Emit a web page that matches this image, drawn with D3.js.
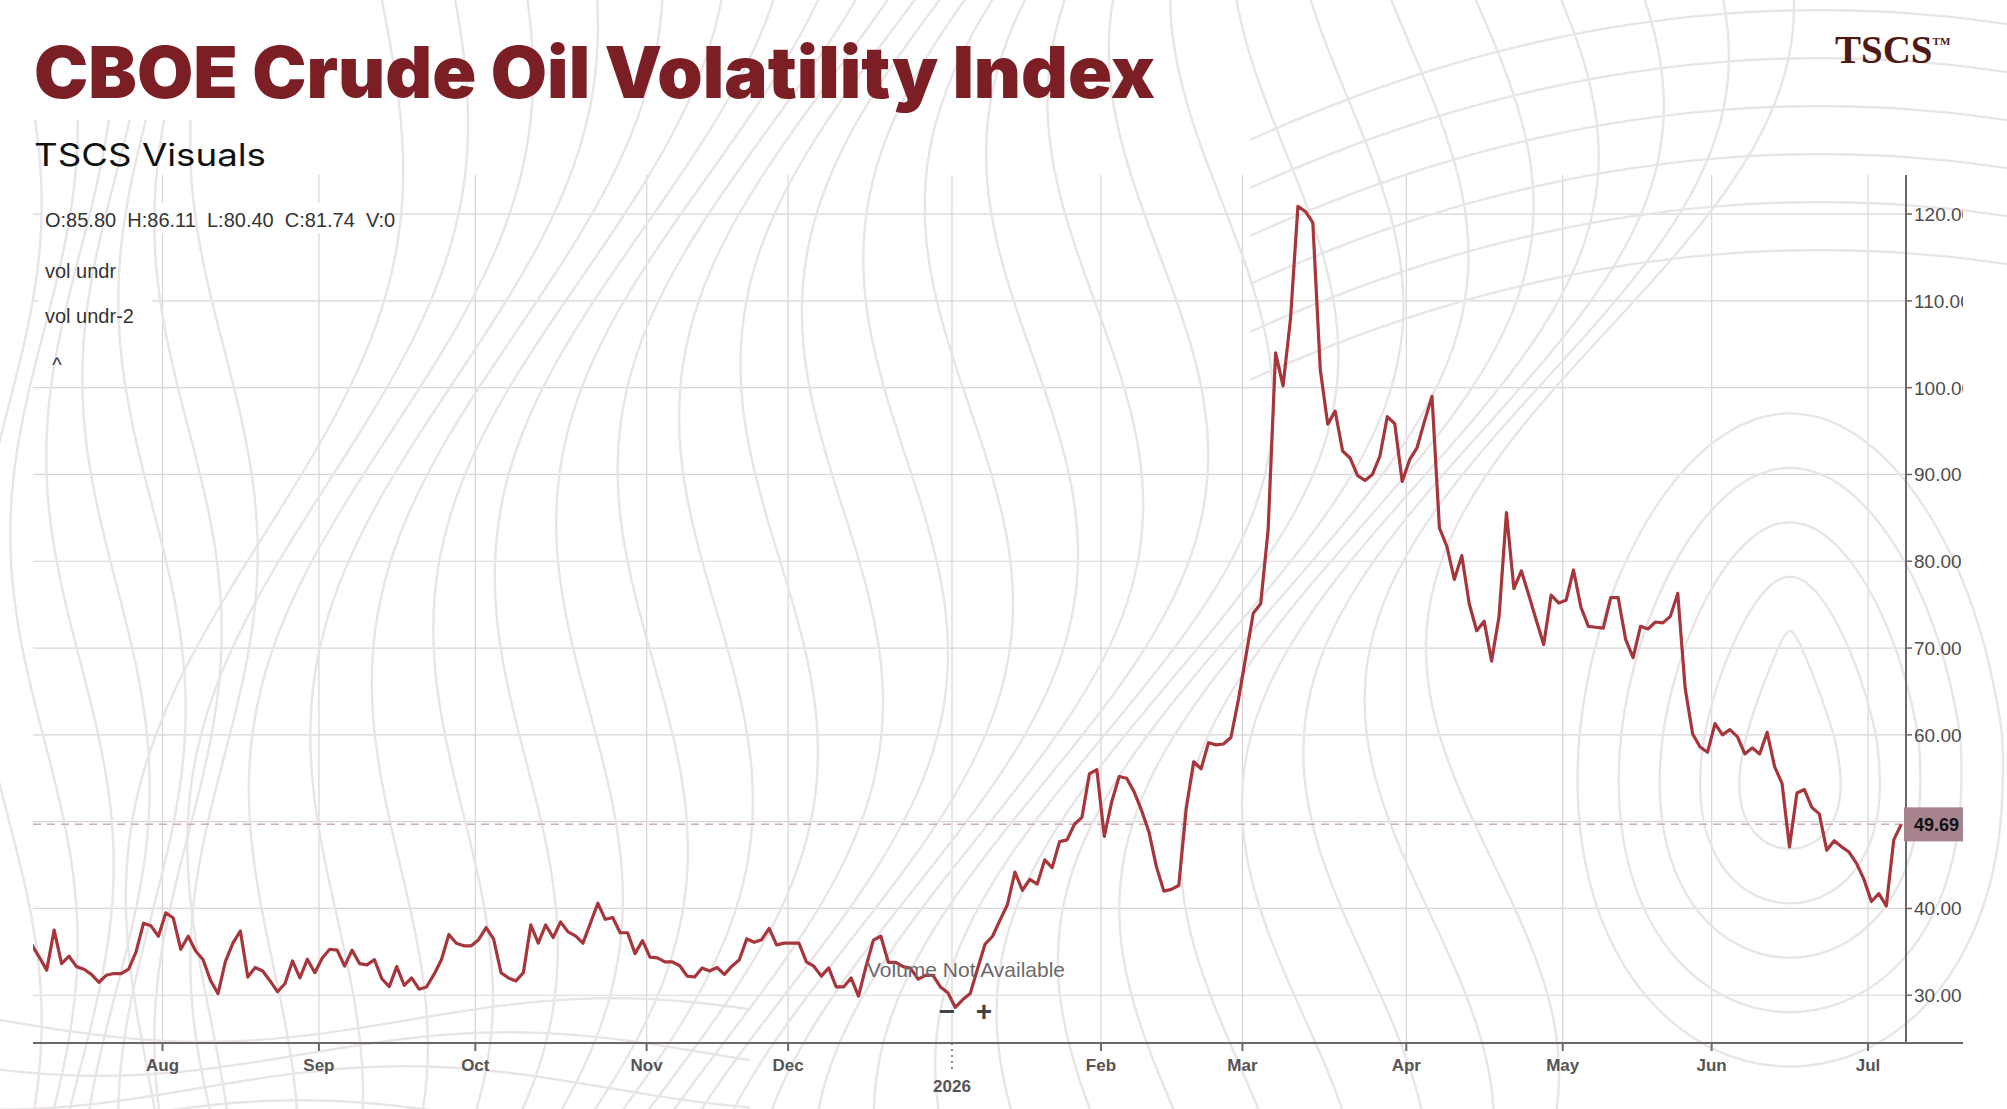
<!DOCTYPE html>
<html>
<head>
<meta charset="utf-8">
<script src="https://cdn.jsdelivr.net/npm/d3@7"></script>
<style>
  html, body { margin: 0; padding: 0; background: #fff; }
  svg { display: block; }
</style>
</head>
<body>
<div id="chart"></div>
<script>
// CBOE Crude Oil Volatility Index — daily close line, trading-day x axis
const W = 2007, H = 1109;
const PLOT = { left: 33, right: 1906, top: 175, bottom: 1043, axisEnd: 1963 };

const START_DATE = '2025-07-08';
const HOLIDAYS = [
  '2025-09-01', '2025-11-27', '2025-12-25', '2026-01-01', '2026-01-19',
  '2026-02-16', '2026-04-03', '2026-05-25', '2026-06-19', '2026-07-03'
];

// daily closes, one per trading day from START_DATE
const closes = [
  35.8, 34.4, 32.9, 37.5, 33.65, 34.5, 33.3, 33.0, 32.4, 31.5,
  32.3, 32.5, 32.5, 33.0, 35.0, 38.3, 38.0, 36.8, 39.5, 38.9,
  35.3, 36.8, 35.1, 34.1, 31.7, 30.2, 33.9, 36.0, 37.4, 32.1,
  33.2, 32.8, 31.65, 30.4, 31.35, 33.95, 32.0, 34.15, 32.6, 34.3,
  35.3, 35.2, 33.35, 35.2, 33.65, 33.5, 34.1, 31.9, 31.0, 33.3,
  31.15, 32.0, 30.7, 30.96, 32.4, 34.1, 37.0, 36.0, 35.7, 35.7,
  36.4, 37.8, 36.5, 32.6, 32.0, 31.65, 32.6, 38.1, 36.0, 38.1,
  36.65, 38.45, 37.3, 36.85, 36.0, 38.3, 40.6, 38.75, 38.95, 37.2,
  37.2, 34.8, 36.3, 34.4, 34.3, 33.85, 33.85, 33.4, 32.2, 32.1,
  33.15, 32.8, 33.2, 32.4, 33.35, 34.1, 36.5, 36.1, 36.4, 37.7,
  35.8, 36.0, 36.0, 36.0, 33.85, 33.35, 32.2, 33.15, 30.96, 30.96,
  32.0, 29.9, 33.3, 36.35, 36.8, 33.8, 33.8, 33.3, 33.1, 31.85,
  32.3, 32.3, 30.96, 30.3, 28.6, 29.5, 30.2, 33.1, 35.9, 36.8,
  38.65, 40.45, 44.2, 42.1, 43.35, 42.8, 45.6, 44.7, 47.7, 47.9,
  49.7, 50.5, 55.5, 56.0, 48.3, 52.3, 55.2, 55.0, 53.45, 51.3,
  48.8, 44.8, 42.0, 42.2, 42.65, 51.5, 56.9, 56.1, 59.1, 58.85,
  58.95, 59.7, 64.0, 69.0, 74.0, 75.1, 83.65, 104.0, 100.2, 107.9,
  120.9, 120.3, 119.0, 102.1, 95.8, 97.3, 92.7, 91.9, 89.9, 89.3,
  90.0, 92.1, 96.65, 95.85, 89.2, 91.7, 93.1, 96.15, 99.0, 83.85,
  81.7, 77.9, 80.65, 75.1, 72.0, 73.1, 68.5, 73.6, 85.6, 76.85,
  78.9, 76.1, 73.2, 70.4, 76.1, 75.2, 75.5, 79.0, 74.7, 72.5,
  72.4, 72.3, 75.8, 75.8, 71.0, 68.9, 72.5, 72.2, 73.0, 72.9,
  73.65, 76.3, 65.3, 60.1, 58.6, 58.0, 61.3, 60.0, 60.6, 59.8,
  57.8, 58.5, 57.8, 60.3, 56.35, 54.4, 47.1, 53.3, 53.7, 51.65,
  50.9, 46.7, 47.8, 47.1, 46.5, 45.2, 43.35, 40.8, 41.7, 40.3,
  47.9, 49.69
];

const yTicks = [30, 40, 50, 60, 70, 80, 90, 100, 110, 120];
const yLabelTicks = [30, 40, 60, 70, 80, 90, 100, 110, 120];
const lastClose = 49.69;
const ohlcText = 'O:85.80  H:86.11  L:80.40  C:81.74  V:0';
const legendItems = ['vol undr', 'vol undr-2'];

const LINE_COLOR = '#a6363b';
const GRID_COLOR = '#d9d4d7';
const TICK_SHIFT = -0.45; // month gridlines sit a little before the first session

function tradingDays(start, count) {
  const fmt = d3.timeFormat('%Y-%m-%d');
  const out = [];
  const d = new Date(start + 'T12:00:00');
  while (out.length < count) {
    const dow = d.getDay();
    if (dow !== 0 && dow !== 6 && !HOLIDAYS.includes(fmt(d))) out.push(new Date(d));
    d.setDate(d.getDate() + 1);
  }
  return out;
}

const dates = tradingDays(START_DATE, closes.length);
const data = closes.map((v, i) => ({ i, date: dates[i], v }));

const monthTicks = [];
for (let i = 1; i < dates.length; i++) {
  if (dates[i].getMonth() !== dates[i - 1].getMonth()) {
    const isYear = dates[i].getMonth() === 0;
    monthTicks.push({
      i,
      year: isYear,
      label: isYear ? d3.timeFormat('%Y')(dates[i]) : d3.timeFormat('%b')(dates[i])
    });
  }
}

const x = d3.scaleLinear().domain([0, closes.length - 1]).range([31.8, 1901.2]);
const y = d3.scaleLinear().domain([24.5, 124.5]).range([PLOT.bottom, PLOT.top]);

const svg = d3.select('#chart').append('svg')
  .attr('width', W).attr('height', H)
  .style('font-family', '"Liberation Sans", Arial, sans-serif');

svg.append('rect').attr('width', W).attr('height', H).attr('fill', '#fff');

const defs = svg.append('defs');
defs.append('clipPath').attr('id', 'plot-clip')
  .append('rect').attr('x', PLOT.left).attr('y', PLOT.top)
  .attr('width', PLOT.right - PLOT.left).attr('height', PLOT.bottom - PLOT.top);
defs.append('clipPath').attr('id', 'scale-clip')
  .append('rect').attr('x', 0).attr('y', 0).attr('width', PLOT.axisEnd).attr('height', H);

// Grid
const grid = svg.append('g').attr('stroke', GRID_COLOR).attr('stroke-width', 1.2);
grid.selectAll('line.h').data(yTicks).join('line')
  .attr('class', 'h')
  .attr('x1', PLOT.left).attr('x2', PLOT.right)
  .attr('y1', d => y(d)).attr('y2', d => y(d));
grid.selectAll('line.v').data(monthTicks).join('line')
  .attr('class', 'v')
  .attr('x1', d => x(d.i + TICK_SHIFT)).attr('x2', d => x(d.i + TICK_SHIFT))
  .attr('y1', PLOT.top).attr('y2', PLOT.bottom);

// Legend backgrounds hide the grid behind them
svg.append('rect').attr('x', 42).attr('y', 203).attr('width', 345).attr('height', 30).attr('fill', '#fff');
svg.append('rect').attr('x', 38).attr('y', 250).attr('width', 114).attr('height', 120).attr('fill', '#fff');

// Background contour decoration
const contour = svg.append('g').attr('fill', 'none')
  .attr('stroke', '#e9e5e7').attr('stroke-width', 2.4);
const smooth = d3.line().curve(d3.curveBasis);
for (let k = 0; k < 26; k++) {
  const x0 = 250 + k * 52;
  const pts = d3.range(-60, H + 80, 30).map(yy =>
    [x0 + (70 + k * 2) * Math.sin(yy / 170 + k * 0.3) + 0.22 * (600 - yy), yy]);
  contour.append('path').attr('d', smooth(pts));
}
for (let k = 0; k < 7; k++) {
  const x0 = 8 + k * 36;
  const pts = d3.range(120, H + 40, 30).map(yy =>
    [x0 + 34 * Math.sin(yy / 130 + k * 0.6), yy]);
  contour.append('path').attr('d', smooth(pts));
}
for (let k = 0; k < 6; k++) {
  const y0 = 10 + k * 48;
  const pts = d3.range(1250, W + 60, 30).map(xx =>
    [xx, y0 + 0.0004 * (xx - 1820) * (xx - 1820)]);
  contour.append('path').attr('d', smooth(pts));
}
const loop = d3.line().curve(d3.curveBasisClosed);
for (let k = 0; k < 5; k++) {
  const rx = 45 + k * 42, ry = 110 + k * 55;
  const pts = d3.range(0, 2 * Math.PI, 0.25).map(t =>
    [1790 + rx * Math.cos(t) + 14 * Math.sin(2 * t), 740 + ry * Math.sin(t)]);
  contour.append('path').attr('d', loop(pts));
}
for (let k = 0; k < 4; k++) {
  const y0 = 1020 + k * 34;
  const pts = d3.range(-30, 760, 30).map(xx =>
    [xx, y0 + 22 * Math.sin(xx / 130 + k * 0.8)]);
  contour.append('path').attr('d', smooth(pts));
}

// Last-value dashed line
svg.append('line')
  .attr('x1', PLOT.left).attr('x2', PLOT.right)
  .attr('y1', y(lastClose)).attr('y2', y(lastClose))
  .attr('stroke', '#cdaeb2').attr('stroke-width', 1.5)
  .attr('stroke-dasharray', '8,6');

// Price line
svg.append('path')
  .datum(data)
  .attr('clip-path', 'url(#plot-clip)')
  .attr('fill', 'none')
  .attr('stroke', LINE_COLOR)
  .attr('stroke-width', 3.2)
  .attr('stroke-linejoin', 'round')
  .attr('d', d3.line().x(d => x(d.i)).y(d => y(d.v)));

// Axes
const axisColor = '#6d676a';
svg.append('line')
  .attr('x1', PLOT.left).attr('x2', PLOT.axisEnd)
  .attr('y1', PLOT.bottom).attr('y2', PLOT.bottom)
  .attr('stroke', axisColor).attr('stroke-width', 2);
svg.append('line')
  .attr('x1', PLOT.right).attr('x2', PLOT.right)
  .attr('y1', PLOT.top).attr('y2', PLOT.bottom)
  .attr('stroke', axisColor).attr('stroke-width', 2);

const xAxis = svg.append('g');
xAxis.selectAll('line').data(monthTicks).join('line')
  .attr('x1', d => x(d.i + TICK_SHIFT)).attr('x2', d => x(d.i + TICK_SHIFT))
  .attr('y1', PLOT.bottom).attr('y2', d => d.year ? PLOT.bottom + 26 : PLOT.bottom + 8)
  .attr('stroke', axisColor).attr('stroke-width', d => d.year ? 1.5 : 2)
  .attr('stroke-dasharray', d => d.year ? '2,4' : null);
xAxis.selectAll('text').data(monthTicks).join('text')
  .attr('x', d => x(d.i + TICK_SHIFT))
  .attr('y', d => d.year ? 1092 : 1071)
  .attr('text-anchor', 'middle')
  .attr('font-size', 17).attr('font-weight', 700)
  .attr('fill', '#575456')
  .text(d => d.label);

const yAxis = svg.append('g').attr('clip-path', 'url(#scale-clip)');
yAxis.selectAll('line').data(yLabelTicks).join('line')
  .attr('x1', PLOT.right).attr('x2', PLOT.right + 6)
  .attr('y1', d => y(d)).attr('y2', d => y(d))
  .attr('stroke', axisColor).attr('stroke-width', 1.5);
yAxis.selectAll('text').data(yLabelTicks).join('text')
  .attr('x', PLOT.right + 8)
  .attr('y', d => y(d) + 7)
  .attr('font-size', 19)
  .attr('fill', '#4f4b4d')
  .text(d => d.toFixed(2));

// Last-value tag
const tag = svg.append('g').attr('clip-path', 'url(#scale-clip)');
tag.append('rect')
  .attr('x', PLOT.right - 2).attr('y', y(lastClose) - 17)
  .attr('width', 60).attr('height', 34)
  .attr('fill', '#a6838d');
tag.append('text')
  .attr('x', PLOT.right + 8).attr('y', y(lastClose) + 7)
  .attr('font-size', 18).attr('font-weight', 700).attr('fill', '#111')
  .text(lastClose.toFixed(2));

// Volume placeholder and zoom buttons
svg.append('text')
  .attr('x', 966).attr('y', 977).attr('text-anchor', 'middle')
  .attr('font-size', 21).attr('fill', '#6c6a6b')
  .text('Volume Not Available');
svg.append('text')
  .attr('x', 947).attr('y', 1021).attr('text-anchor', 'middle')
  .attr('font-size', 28).attr('font-weight', 700).attr('fill', '#444')
  .text('\u2212');
svg.append('text')
  .attr('x', 984).attr('y', 1021).attr('text-anchor', 'middle')
  .attr('font-size', 28).attr('font-weight', 700).attr('fill', '#444')
  .text('+');

// Legend
svg.append('text')
  .attr('x', 45).attr('y', 227)
  .attr('font-size', 20).attr('fill', '#333')
  .style('white-space', 'pre')
  .text(ohlcText);
svg.selectAll('text.legend').data(legendItems).join('text')
  .attr('class', 'legend')
  .attr('x', 45).attr('y', (d, i) => 278 + i * 44.5)
  .attr('font-size', 20).attr('fill', '#333')
  .text(d => d);
svg.append('text')
  .attr('x', 57).attr('y', 372).attr('text-anchor', 'middle')
  .attr('font-size', 20).attr('fill', '#333')
  .text('^');

// Titles
svg.append('text')
  .attr('x', 34).attr('y', 98)
  .attr('font-family', 'Inter, "Liberation Sans", sans-serif')
  .attr('font-size', 72).attr('font-weight', 900)
  .attr('fill', '#7b1f24')
  .attr('textLength', 1121).attr('lengthAdjust', 'spacingAndGlyphs')
  .text('CBOE Crude Oil Volatility Index');
svg.append('text')
  .attr('x', 34).attr('y', 166)
  .attr('font-family', 'Inter, "Liberation Sans", sans-serif')
  .attr('font-size', 31).attr('fill', '#111')
  .attr('textLength', 232).attr('lengthAdjust', 'spacingAndGlyphs')
  .text('TSCS Visuals');
const logo = svg.append('text')
  .attr('x', 1835).attr('y', 63)
  .attr('font-family', '"Liberation Serif", "DejaVu Serif", serif')
  .attr('font-size', 39).attr('font-weight', 700)
  .attr('fill', '#4e1a13');
logo.append('tspan').text('TSCS');
logo.append('tspan').attr('font-size', 11).attr('dy', -18).text('TM');
</script>
</body>
</html>
